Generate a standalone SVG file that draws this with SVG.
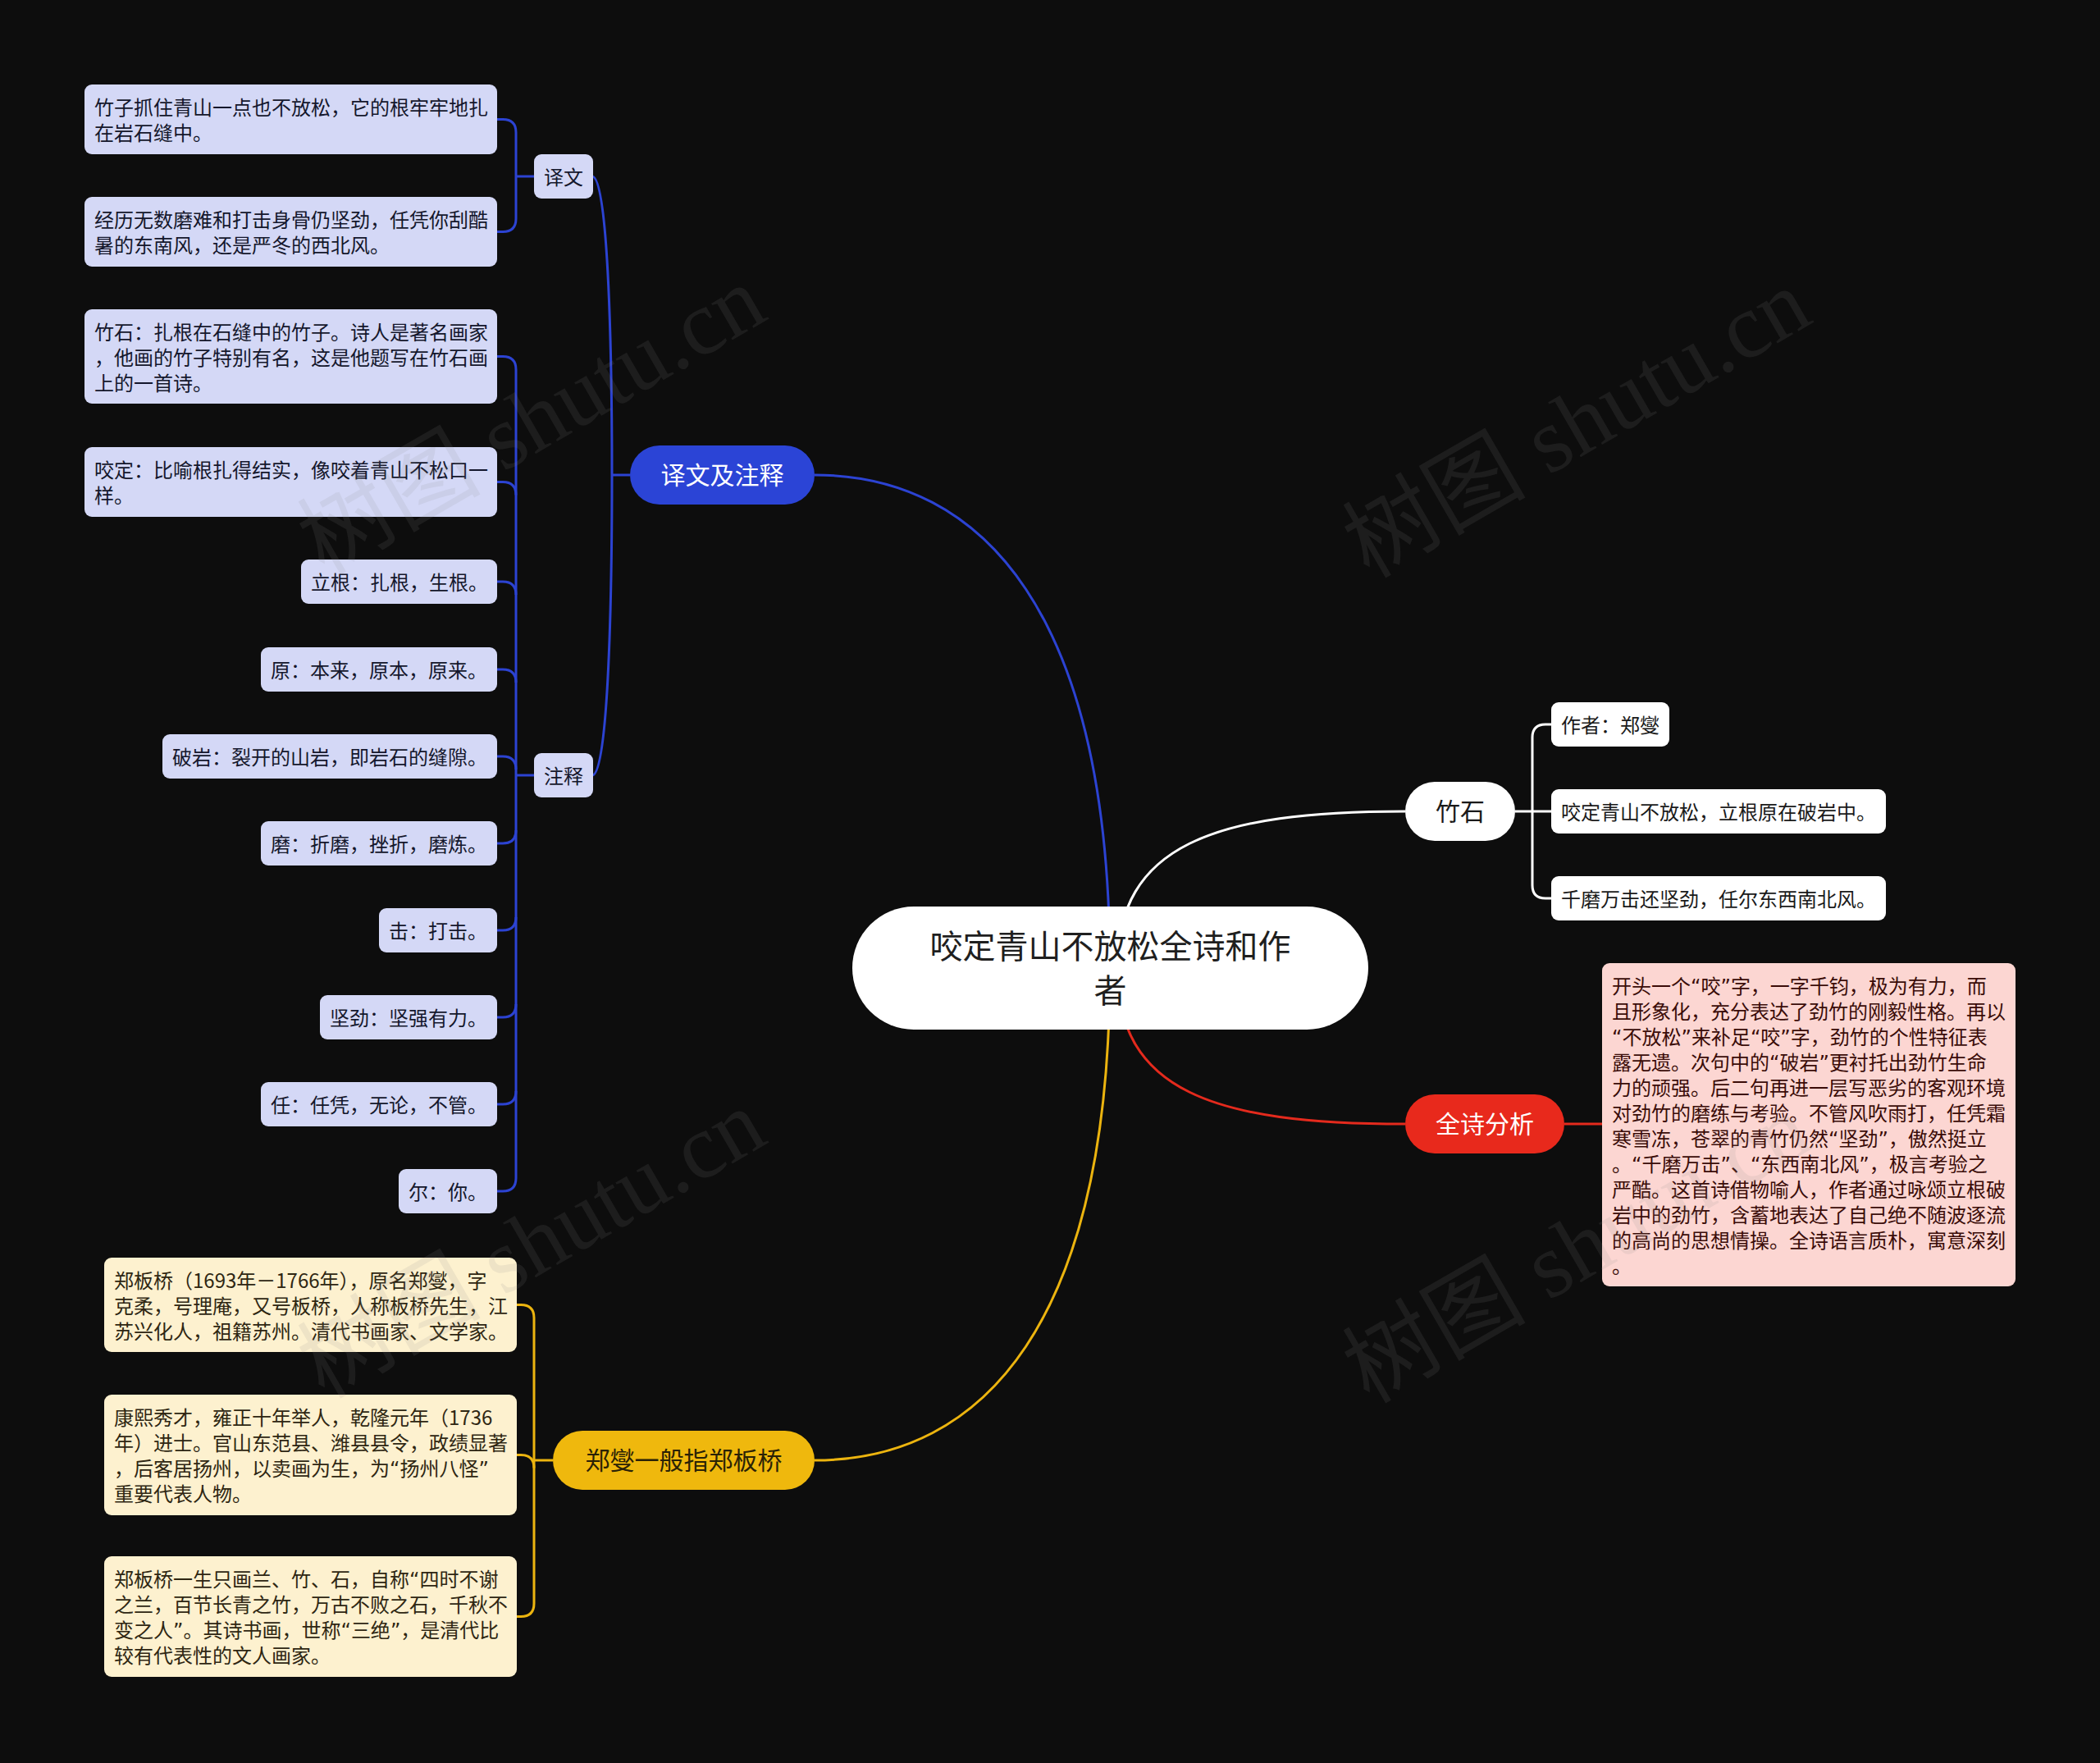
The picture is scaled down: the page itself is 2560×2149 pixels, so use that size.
<svg xmlns="http://www.w3.org/2000/svg" width="2560" height="2149" viewBox="0 0 2560 2149">
<style>
text{font-family:"Noto Sans CJK SC","Noto Sans",sans-serif;}
.q{font-family:"DejaVu Sans","Noto Sans",sans-serif;}
.t24{font-size:24px;}
.t30{font-size:30px;}
.t40{font-size:40px;}
.bl{fill:#d4d8f6;}
.blt{fill:#14172c;}
.wh{fill:#ffffff;}
.wht{fill:#1a1a1a;}
.pk{fill:#fcd6d2;}
.pkt{fill:#3a0c08;}
.ye{fill:#fdf1cf;}
.yet{fill:#2e2612;}
.cb{fill:none;stroke:#2c43d2;stroke-width:3;}
.cw{fill:none;stroke:#ffffff;stroke-width:3;}
.cr{fill:none;stroke:#e42a1d;stroke-width:3;}
.cy{fill:none;stroke:#ecb40f;stroke-width:3;}
.wm{font-family:"Liberation Serif","Noto Sans CJK SC",serif;font-size:112px;fill:#8a8a8a;fill-opacity:0.13;}
</style>
<rect x="0" y="0" width="2560" height="2149" fill="#0d0d0d"/>

<g id="connectors">
  <path class="cb" d="M1353,1180 C1353,750 1200,579 993,579"/>
  <path class="cw" d="M1362,1180 C1362,1030 1480,989 1713,989"/>
  <path class="cr" d="M1362,1180 C1362,1330 1480,1370 1713,1370"/>
  <path class="cy" d="M1353,1180 C1353,1610 1200,1780 993,1780"/>
  <path class="cb" d="M768,579 H746"/>
  <path class="cb" d="M746,579 C746,400 740,215 722,215"/>
  <path class="cb" d="M746,579 C746,760 740,945 722,945"/>
  <path class="cb" d="M651,215 H629"/>
  <path class="cb" d="M606,145.5 H613 Q629,145.5 629,161.5 V266.5 Q629,282.5 613,282.5 H606"/>
  <path class="cb" d="M651,945 H629"/>
  <path class="cb" d="M606,434.5 H613 Q629,434.5 629,450.5 V1436 Q629,1452 613,1452 H606"/>
  <path class="cb" d="M606,587.5 H613 Q629,587.5 629,603.5"/>
  <path class="cb" d="M606,709 H613 Q629,709 629,725"/>
  <path class="cb" d="M606,816 H613 Q629,816 629,832"/>
  <path class="cb" d="M606,922 H613 Q629,922 629,938"/>
  <path class="cb" d="M606,1028 H613 Q629,1028 629,1012"/>
  <path class="cb" d="M606,1134 H613 Q629,1134 629,1118"/>
  <path class="cb" d="M606,1240 H613 Q629,1240 629,1224"/>
  <path class="cb" d="M606,1346 H613 Q629,1346 629,1330"/>
  <path class="cw" d="M1847,989 H1891"/>
  <path class="cw" d="M1891,883 H1884 Q1868,883 1868,899 V1079 Q1868,1095 1884,1095 H1891"/>
  <path class="cr" d="M1907,1370 H1953"/>
  <path class="cy" d="M674,1780 H651"/>
  <path class="cy" d="M630,1590.5 H635 Q651,1590.5 651,1606.5 V1954.5 Q651,1970.5 635,1970.5 H630"/>
  <path class="cy" d="M630,1773.5 H635 Q651,1773.5 651,1789.5"/>
</g>

<g id="root">
  <rect x="1039" y="1105" width="629" height="150" rx="75" fill="#ffffff"/>
  <text class="t40" x="1353.5" y="1168" text-anchor="middle" fill="#1f1f1f">咬定青山不放松全诗和作</text>
  <text class="t40" x="1353.5" y="1222" text-anchor="middle" fill="#1f1f1f">者</text>
</g>

<g id="branch-yiwen-zhushi">
  <rect x="768" y="543" width="225" height="72" rx="36" fill="#2b44d6"/>
  <text class="t30" x="880.5" y="590" text-anchor="middle" fill="#ffffff">译文及注释</text>
</g>
<g id="yiwen">
  <rect class="bl" x="651" y="188" width="72" height="54" rx="9"/>
  <text class="t24 blt" x="687" y="225" text-anchor="middle">译文</text>
</g>
<g id="zhushi">
  <rect class="bl" x="651" y="918" width="72" height="54" rx="9"/>
  <text class="t24 blt" x="687" y="955" text-anchor="middle">注释</text>
</g>
<g id="yw1">
  <rect class="bl" x="103" y="103" width="503" height="85" rx="9"/>
  <text class="t24 blt" x="115" y="140">竹子抓住青山一点也不放松，它的根牢牢地扎</text>
  <text class="t24 blt" x="115" y="171">在岩石缝中。</text>
</g>
<g id="yw2">
  <rect class="bl" x="103" y="240" width="503" height="85" rx="9"/>
  <text class="t24 blt" x="115" y="277">经历无数磨难和打击身骨仍坚劲，任凭你刮酷</text>
  <text class="t24 blt" x="115" y="308">暑的东南风，还是严冬的西北风。</text>
</g>
<g id="zs1">
  <rect class="bl" x="103" y="377" width="503" height="115" rx="9"/>
  <text class="t24 blt" x="115" y="413.5">竹石：扎根在石缝中的竹子。诗人是著名画家</text>
  <text class="t24 blt" x="115" y="444.5">，他画的竹子特别有名，这是他题写在竹石画</text>
  <text class="t24 blt" x="115" y="475.5">上的一首诗。</text>
</g>
<g id="zs2">
  <rect class="bl" x="103" y="545" width="503" height="85" rx="9"/>
  <text class="t24 blt" x="115" y="582">咬定：比喻根扎得结实，像咬着青山不松口一</text>
  <text class="t24 blt" x="115" y="613">样。</text>
</g>
<g id="zs3">
  <rect class="bl" x="367" y="682" width="239" height="54" rx="9"/>
  <text class="t24 blt" x="379" y="719">立根：扎根，生根。</text>
</g>
<g id="zs4">
  <rect class="bl" x="318" y="789" width="288" height="54" rx="9"/>
  <text class="t24 blt" x="330" y="826">原：本来，原本，原来。</text>
</g>
<g id="zs5">
  <rect class="bl" x="198" y="895" width="408" height="54" rx="9"/>
  <text class="t24 blt" x="210" y="932">破岩：裂开的山岩，即岩石的缝隙。</text>
</g>
<g id="zs6">
  <rect class="bl" x="318" y="1001" width="288" height="54" rx="9"/>
  <text class="t24 blt" x="330" y="1038">磨：折磨，挫折，磨炼。</text>
</g>
<g id="zs7">
  <rect class="bl" x="462" y="1107" width="144" height="54" rx="9"/>
  <text class="t24 blt" x="474" y="1144">击：打击。</text>
</g>
<g id="zs8">
  <rect class="bl" x="390" y="1213" width="216" height="54" rx="9"/>
  <text class="t24 blt" x="402" y="1250">坚劲：坚强有力。</text>
</g>
<g id="zs9">
  <rect class="bl" x="318" y="1319" width="288" height="54" rx="9"/>
  <text class="t24 blt" x="330" y="1356">任：任凭，无论，不管。</text>
</g>
<g id="zs10">
  <rect class="bl" x="486" y="1425" width="120" height="54" rx="9"/>
  <text class="t24 blt" x="498" y="1462">尔：你。</text>
</g>

<g id="branch-zhushi">
  <rect x="1713" y="953" width="134" height="72" rx="36" fill="#ffffff"/>
  <text class="t30" x="1780" y="1000" text-anchor="middle" fill="#1a1a1a">竹石</text>
</g>
<g id="zh1">
  <rect class="wh" x="1891" y="856" width="144" height="54" rx="9"/>
  <text class="t24 wht" x="1903" y="893">作者：郑燮</text>
</g>
<g id="zh2">
  <rect class="wh" x="1891" y="962" width="408" height="54" rx="9"/>
  <text class="t24 wht" x="1903" y="999">咬定青山不放松，立根原在破岩中。</text>
</g>
<g id="zh3">
  <rect class="wh" x="1891" y="1068" width="408" height="54" rx="9"/>
  <text class="t24 wht" x="1903" y="1105">千磨万击还坚劲，任尔东西南北风。</text>
</g>

<g id="branch-analysis">
  <rect x="1713" y="1334" width="194" height="72" rx="36" fill="#e8291c"/>
  <text class="t30" x="1810" y="1381" text-anchor="middle" fill="#ffffff">全诗分析</text>
</g>
<g id="analysis">
  <rect class="pk" x="1953" y="1174" width="504" height="394" rx="9"/>
  <text class="t24 pkt" x="1965" y="1210.5">开头一个<tspan class="q">“</tspan>咬<tspan class="q">”</tspan>字，一字千钧，极为有力，而</text>
  <text class="t24 pkt" x="1965" y="1241.5">且形象化，充分表达了劲竹的刚毅性格。再以</text>
  <text class="t24 pkt" x="1965" y="1272.5"><tspan class="q">“</tspan>不放松<tspan class="q">”</tspan>来补足<tspan class="q">“</tspan>咬<tspan class="q">”</tspan>字，劲竹的个性特征表</text>
  <text class="t24 pkt" x="1965" y="1303.5">露无遗。次句中的<tspan class="q">“</tspan>破岩<tspan class="q">”</tspan>更衬托出劲竹生命</text>
  <text class="t24 pkt" x="1965" y="1334.5">力的顽强。后二句再进一层写恶劣的客观环境</text>
  <text class="t24 pkt" x="1965" y="1365.5">对劲竹的磨练与考验。不管风吹雨打，任凭霜</text>
  <text class="t24 pkt" x="1965" y="1396.5">寒雪冻，苍翠的青竹仍然<tspan class="q">“</tspan>坚劲<tspan class="q">”</tspan>，傲然挺立</text>
  <text class="t24 pkt" x="1965" y="1427.5">。<tspan class="q">“</tspan>千磨万击<tspan class="q">”</tspan>、<tspan class="q">“</tspan>东西南北风<tspan class="q">”</tspan>，极言考验之</text>
  <text class="t24 pkt" x="1965" y="1458.5">严酷。这首诗借物喻人，作者通过咏颂立根破</text>
  <text class="t24 pkt" x="1965" y="1489.5">岩中的劲竹，含蓄地表达了自己绝不随波逐流</text>
  <text class="t24 pkt" x="1965" y="1520.5">的高尚的思想情操。全诗语言质朴，寓意深刻</text>
  <text class="t24 pkt" x="1965" y="1551.5">。</text>
</g>

<g id="branch-zhengxie">
  <rect x="674" y="1744" width="319" height="72" rx="36" fill="#efb80d"/>
  <text class="t30" x="833.5" y="1791" text-anchor="middle" fill="#2a2206">郑燮一般指郑板桥</text>
</g>
<g id="zx1">
  <rect class="ye" x="127" y="1533" width="503" height="115" rx="9"/>
  <text class="t24 yet" x="139" y="1569.5">郑板桥（1693年－1766年），原名郑燮，字</text>
  <text class="t24 yet" x="139" y="1600.5">克柔，号理庵，又号板桥，人称板桥先生，江</text>
  <text class="t24 yet" x="139" y="1631.5">苏兴化人，祖籍苏州。清代书画家、文学家。</text>
</g>
<g id="zx2">
  <rect class="ye" x="127" y="1700" width="503" height="147" rx="9"/>
  <text class="t24 yet" x="139" y="1737">康熙秀才，雍正十年举人，乾隆元年（1736</text>
  <text class="t24 yet" x="139" y="1768">年）进士。官山东范县、潍县县令，政绩显著</text>
  <text class="t24 yet" x="139" y="1799">，后客居扬州，以卖画为生，为<tspan class="q">“</tspan>扬州八怪<tspan class="q">”</tspan></text>
  <text class="t24 yet" x="139" y="1830">重要代表人物。</text>
</g>
<g id="zx3">
  <rect class="ye" x="127" y="1897" width="503" height="147" rx="9"/>
  <text class="t24 yet" x="139" y="1934">郑板桥一生只画兰、竹、石，自称<tspan class="q">“</tspan>四时不谢</text>
  <text class="t24 yet" x="139" y="1965">之兰，百节长青之竹，万古不败之石，千秋不</text>
  <text class="t24 yet" x="139" y="1996">变之人<tspan class="q">”</tspan>。其诗书画，世称<tspan class="q">“</tspan>三绝<tspan class="q">”</tspan>，是清代比</text>
  <text class="t24 yet" x="139" y="2027">较有代表性的文人画家。</text>
</g>

<g id="watermarks">
  <text class="wm" transform="translate(648,512) rotate(-30)" text-anchor="middle" dy="38">树图 shutu.cn</text>
  <text class="wm" transform="translate(1922,516) rotate(-30)" text-anchor="middle" dy="38">树图 shutu.cn</text>
  <text class="wm" transform="translate(648,1516) rotate(-30)" text-anchor="middle" dy="38">树图 shutu.cn</text>
  <text class="wm" transform="translate(1922,1522) rotate(-30)" text-anchor="middle" dy="38">树图 shutu.cn</text>
</g>
</svg>
